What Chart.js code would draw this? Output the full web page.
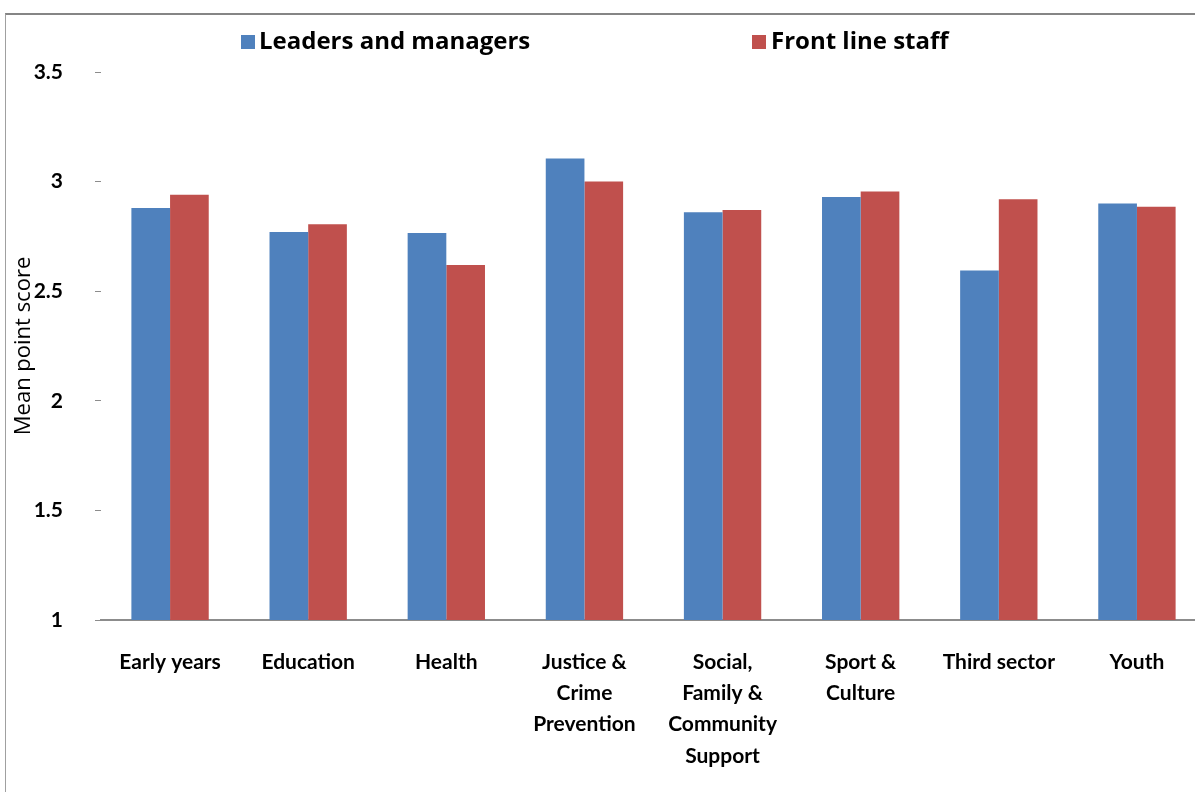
<!DOCTYPE html>
<html>
<head>
<meta charset="utf-8">
<title>Mean point score by sector</title>
<script src="https://cdn.jsdelivr.net/npm/chart.js@4"></script>
<style>
  body { margin: 0; background: #fff; overflow: hidden; }
  .frame { position: absolute; left: 5px; top: 13px; width: 1300px; height: 900px;
           border-top: 2px solid #858585; border-left: 1px solid #a0a0a0; }
  .wrap { position: absolute; left: 0; top: 0; width: 1215px; height: 792px; }
</style>
</head>
<body>
<div class="frame"></div>
<div class="wrap"><canvas id="myChart" width="1215" height="792"></canvas></div>
<script>
// data
const sectors = [
  'Early years', 'Education', 'Health',
  ['Justice &', 'Crime', 'Prevention'],
  ['Social,', 'Family &', 'Community', 'Support'],
  ['Sport &', 'Culture'],
  'Third sector', 'Youth'
];
const leadersManagers = [2.88, 2.77, 2.765, 3.105, 2.86, 2.93, 2.595, 2.90];
const frontLineStaff  = [2.94, 2.805, 2.62, 3.0, 2.87, 2.955, 2.92, 2.885];
const yTicks = [1, 1.5, 2, 2.5, 3, 3.5];

const FONT = 'Lato, "Open Sans", sans-serif';

// legend drawn by hand so the two items sit where the original has them
const legendPlugin = {
  id: 'manualLegend',
  afterDraw(chart) {
    const ctx = chart.ctx;
    const spots = [{ box: 241, text: 259 }, { box: 752, text: 771 }];
    ctx.save();
    ctx.font = 'bold 24px "Open Sans", sans-serif';
    ctx.textBaseline = 'middle';
    chart.data.datasets.forEach((ds, i) => {
      ctx.fillStyle = ds.backgroundColor;
      ctx.fillRect(spots[i].box, 35, 14, 14);
      ctx.fillStyle = '#000';
      ctx.fillText(ds.label, spots[i].text, 42);
    });
    ctx.restore();
  }
};

const ctx = document.getElementById('myChart').getContext('2d');
new Chart(ctx, {
  type: 'bar',
  data: {
    labels: sectors,
    datasets: [
      { label: 'Leaders and managers', data: leadersManagers, backgroundColor: '#4F81BD' },
      { label: 'Front line staff', data: frontLineStaff, backgroundColor: '#C0504D' }
    ]
  },
  options: {
    responsive: false,
    animation: false,
    layout: { padding: { top: 72, right: 9, left: 0, bottom: 0 } },
    datasets: { bar: { categoryPercentage: 0.56, barPercentage: 1.0 } },
    plugins: { legend: { display: false }, tooltip: { enabled: false } },
    scales: {
      x: {
        grid: { display: false, drawTicks: false },
        border: { display: true, color: '#8c8c8c', width: 2 },
        ticks: { color: '#000', padding: 27, maxRotation: 0, autoSkip: false,
                 font: { family: FONT, size: 21, weight: 'bold', lineHeight: 1.48 } },
        afterFit(scale) { scale.height = 172; }
      },
      y: {
        min: 1, max: 3.5,
        afterBuildTicks(scale) { scale.ticks = yTicks.map(v => ({ value: v })); },
        grid: { drawOnChartArea: false, drawTicks: true, tickLength: 6, color: '#8c8c8c' },
        border: { display: false },
        ticks: { color: '#000', padding: 32,
                 callback: v => String(v),
                 font: { family: FONT, size: 21, weight: 'bold' } },
        title: { display: true, text: 'Mean point score', color: '#000',
                 padding: { top: 11, bottom: 0 },
                 font: { family: '"Open Sans", sans-serif', size: 22 } },
        afterFit(scale) { scale.width = 101; }
      }
    }
  },
  plugins: [legendPlugin]
});
</script>
</body>
</html>
